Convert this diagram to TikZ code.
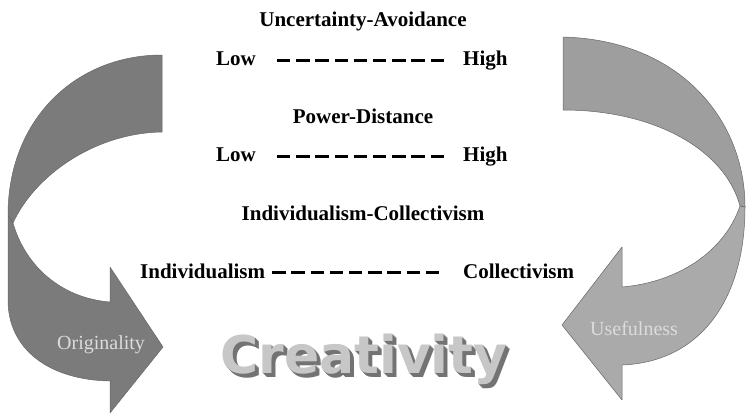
\documentclass[tikz,border=0pt]{standalone}
\usepackage{fontspec}
\setmainfont{Liberation Serif}
\newfontfamily\creafont{DejaVu Sans}
\definecolor{leftgray}{HTML}{7B7B7B}
\definecolor{rightgray}{HTML}{9E9E9E}
\definecolor{rightlow}{HTML}{AAAAAA}
\definecolor{labelgray}{HTML}{DCDCDC}
\begin{document}
\begin{tikzpicture}[x=1pt,y=-1pt]
            \tikzstyle{band} = [draw=black!60, line width=0.5pt, line join=round]
            \tikzstyle{scaletext} = [inner sep=0pt, font=\fontsize{21}{24}\selectfont\bfseries]
            \tikzstyle{scaleline} = [line width=3pt, dash pattern=on 13.4pt off 5.8pt]
            \tikzstyle{arrowtext} = [inner sep=0pt, text=labelgray, font=\fontsize{20}{24}\selectfont]
            \tikzstyle{creatext} = [inner sep=0pt, anchor=base west, font=\fontsize{52}{56}\creafont\bfseries]
            \useasboundingbox (0, 0) rectangle (746, 415);
            % left arrow
            \filldraw[band, fill=leftgray] (162, 55) .. controls (75, 55) and (8, 120) .. (8, 215) -- (13, 223) .. controls (35, 175) and (95, 133) .. (162, 132) -- cycle;
            \filldraw[band, fill=leftgray] (8, 215) -- (8, 300) .. controls (8, 350) and (50, 380) .. (110, 381) -- (110, 413) -- (163, 347) -- (110, 267) -- (110, 302) .. controls (60, 298) and (25, 265) .. (13, 223) -- cycle;
            % right arrow
            \filldraw[band, fill=rightgray] (563, 37) .. controls (680, 40) and (745, 120) .. (745, 207) -- (740, 206) .. controls (725, 150) and (655, 110) .. (563, 110) -- cycle;
            \filldraw[band, fill=rightlow] (745, 207) .. controls (745, 300) and (700, 362) .. (622, 365) -- (622, 400) -- (562, 325) -- (622, 247) -- (622, 287) .. controls (680, 282) and (725, 250) .. (740, 206) -- cycle;
            \node[arrowtext, anchor=base west] (orig) at (57, 349) {Originality};
            \node[arrowtext, anchor=base west] (usef) at (590, 335) {Usefulness};
            % scales
            \node[scaletext, anchor=base] (titleUA) at (363, 27) {Uncertainty-Avoidance};
            \node[scaletext, anchor=base west] (lowUA) at (216, 65) {Low};
            \node[scaletext, anchor=base west] (highUA) at (463, 65) {High};
            \draw[scaleline, shorten <=21pt, shorten >=18pt] ([yshift=5pt]lowUA.base east) -- ([yshift=5pt]highUA.base west);
            \node[scaletext, anchor=base] (titlePD) at (363, 123) {Power-Distance};
            \node[scaletext, anchor=base west] (lowPD) at (216, 161) {Low};
            \node[scaletext, anchor=base west] (highPD) at (463, 161) {High};
            \draw[scaleline, shorten <=21pt, shorten >=18pt] ([yshift=5pt]lowPD.base east) -- ([yshift=5pt]highPD.base west);
            \node[scaletext, anchor=base] (titleIC) at (363, 220) {Individualism-Collectivism};
            \node[scaletext, anchor=base west] (indiv) at (140, 278) {Individualism};
            \node[scaletext, anchor=base west] (collec) at (463, 278) {Collectivism};
            \draw[scaleline, shorten <=7pt, shorten >=18pt] ([yshift=6pt]indiv.base east) -- ([yshift=6pt]collec.base west);
            % creativity
            \foreach \d in {4,3,2,1}
                \node[creatext, text=black!55] (crea\d) at (220+\d, 373+\d) {Creativity};
            \node[creatext, text=black!22] (crea) at (220, 373) {Creativity};
        \end{tikzpicture}
\end{document}
